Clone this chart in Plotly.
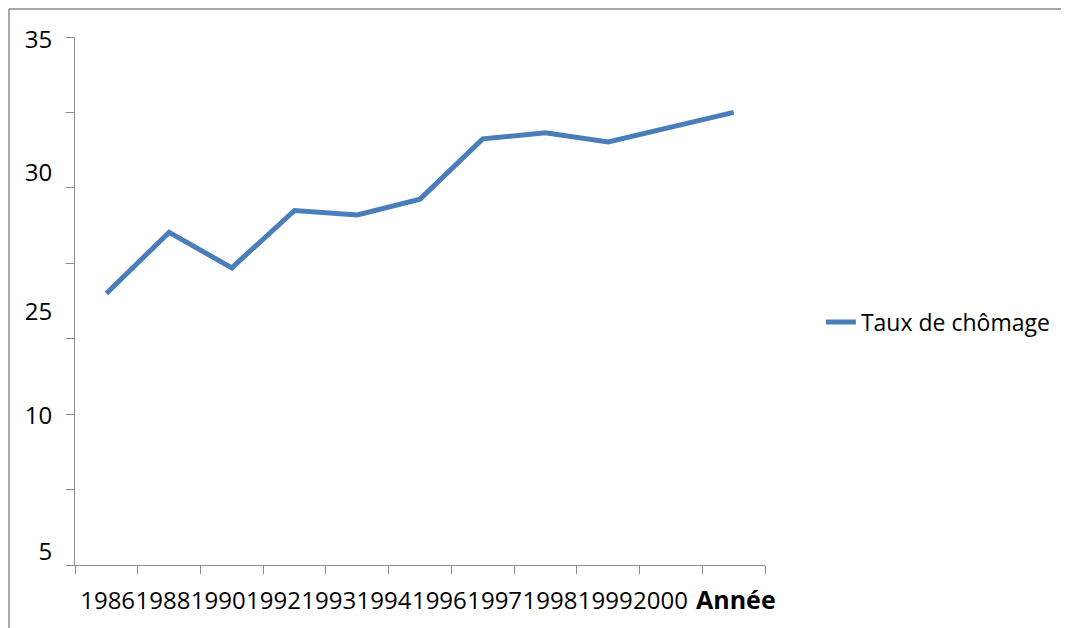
import plotly.graph_objects as go

annees = ["1986", "1988", "1990", "1992", "1993", "1994", "1996", "1997", "1998", "1999", "2000"]
taux = [18.0, 22.05, 19.7, 23.5, 23.2, 24.25, 28.25, 28.65, 28.05, 29.0, 30.0]

# étiquettes de l'axe vertical telles qu'affichées
y_labels = ["35", "30", "25", "10", "5"]
y_label_vals = [34.8, 26.0, 16.8, 9.9, 0.9]

axis_gray = "#8c8c8c"

fig = go.Figure()
fig.add_trace(go.Scatter(
    x=annees,
    y=taux,
    mode="lines",
    name="Taux de chômage",
    line=dict(color="#4a7ebb", width=5)))
# trace invisible pour porter l'axe des étiquettes d'années
fig.add_trace(go.Scatter(
    x=list(range(len(annees))), y=taux, xaxis="x2",
    mode="lines", line=dict(width=0), opacity=0,
    showlegend=False, hoverinfo="skip"))

# la page ajoute 8 px de marge autour de la figure
fig.update_layout(
    width=1069, height=628,
    margin=dict(l=67, r=312, t=29, b=71),
    paper_bgcolor="white", plot_bgcolor="white",
    font=dict(family="Open Sans", size=24, color="black"),
    showlegend=True,
    legend=dict(x=1.081, y=0.46, xanchor="left", yanchor="middle",
                font=dict(size=23), bgcolor="rgba(0,0,0,0)"),
    xaxis=dict(
        type="category",
        range=[-0.5, len(annees) - 0.5],
        showticklabels=False, automargin=False,
        showgrid=False, zeroline=False,
        showline=True, linecolor=axis_gray, linewidth=1,
        ticks="outside", tickson="boundaries",
        ticklen=8, tickcolor=axis_gray, tickwidth=1,
    ),
    # étiquettes des années, serrées comme dans l'original
    xaxis2=dict(
        overlaying="x", anchor="y", side="bottom",
        range=[-0.59, 11.89],
        tickmode="array",
        tickvals=list(range(len(annees))),
        ticktext=annees,
        tickangle=0, automargin=False,
        showgrid=False, zeroline=False, showline=False,
        ticks="", ticklabelstandoff=19,
    ),
    yaxis=dict(
        range=[0, 35],
        tickmode="array",
        tickvals=y_label_vals,
        ticktext=y_labels,
        automargin=False,
        showgrid=False, zeroline=False,
        showline=True, linecolor=axis_gray, linewidth=1,
        ticks="", ticklabelstandoff=17,
        minor=dict(tickmode="linear", tick0=0, dtick=5, ticks="outside",
                   ticklen=8, tickcolor=axis_gray, tickwidth=1),
    ),
)

# titre de l'axe horizontal
fig.add_annotation(text="<b>Année</b>", xref="paper", yref="paper",
                   x=(736 - 75) / 690, y=(565 - 599) / 528,
                   xanchor="center", yanchor="middle", showarrow=False,
                   font=dict(size=25, color="black"))

# cadre du graphique (bords gauche et haut visibles)
top = 556 / 528
left = -66 / 690
fig.add_shape(type="line", xref="paper", yref="paper",
              x0=left, x1=1.6, y0=top, y1=top,
              line=dict(color=axis_gray, width=1.5))
fig.add_shape(type="line", xref="paper", yref="paper",
              x0=left, x1=left, y0=top, y1=-0.2,
              line=dict(color=axis_gray, width=1.5))

fig.write_html("out.html")
